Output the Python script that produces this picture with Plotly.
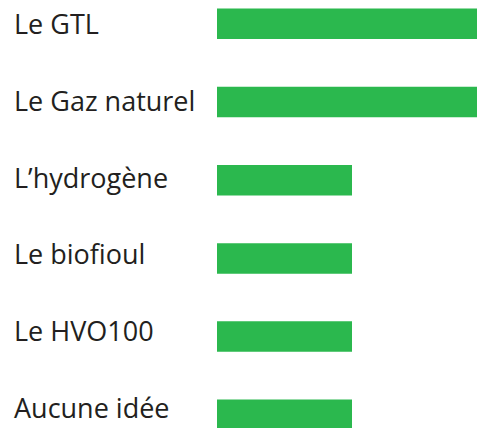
import plotly.graph_objects as go

categories = ["Le GTL", "Le Gaz naturel", "L’hydrogène", "Le biofioul", "Le HVO100", "Aucune idée"]
values = [2, 2, 1, 1, 1, 1]

fig = go.Figure()
fig.add_trace(go.Bar(
    x=values, y=categories, orientation="h",
    marker=dict(color="#2bb84e", line=dict(width=0)),
    width=0.39, hoverinfo="skip",
))
# invisible helper trace so the label axis knows the categories
fig.add_trace(go.Scatter(
    x=[0] * len(categories), y=categories, yaxis="y2",
    mode="markers", marker=dict(opacity=0), hoverinfo="skip",
))

for c in categories:
    fig.add_annotation(
        x=0, xref="paper", xshift=-205, y=c, yref="y2",
        text=c, showarrow=False, xanchor="left", yanchor="middle",
        font=dict(family="Open Sans", size=27, color="#231f20"),
    )

fig.update_layout(
    width=477, height=428,
    margin=dict(l=217, r=0, t=0, b=0),
    paper_bgcolor="white", plot_bgcolor="white",
    showlegend=False,
    xaxis=dict(range=[0, 260 / 135], visible=False, fixedrange=True),
    yaxis=dict(type="category", categoryorder="array", categoryarray=categories,
               range=[5.169, -0.304], visible=False, fixedrange=True),
    yaxis2=dict(type="category", categoryorder="array", categoryarray=categories,
                overlaying="y", range=[5.269, -0.306], visible=False, fixedrange=True),
)

fig.write_html(
    "out.html",
    config={"displayModeBar": False},
    post_script="document.body.style.margin='0';document.body.style.overflow='hidden';",
)
